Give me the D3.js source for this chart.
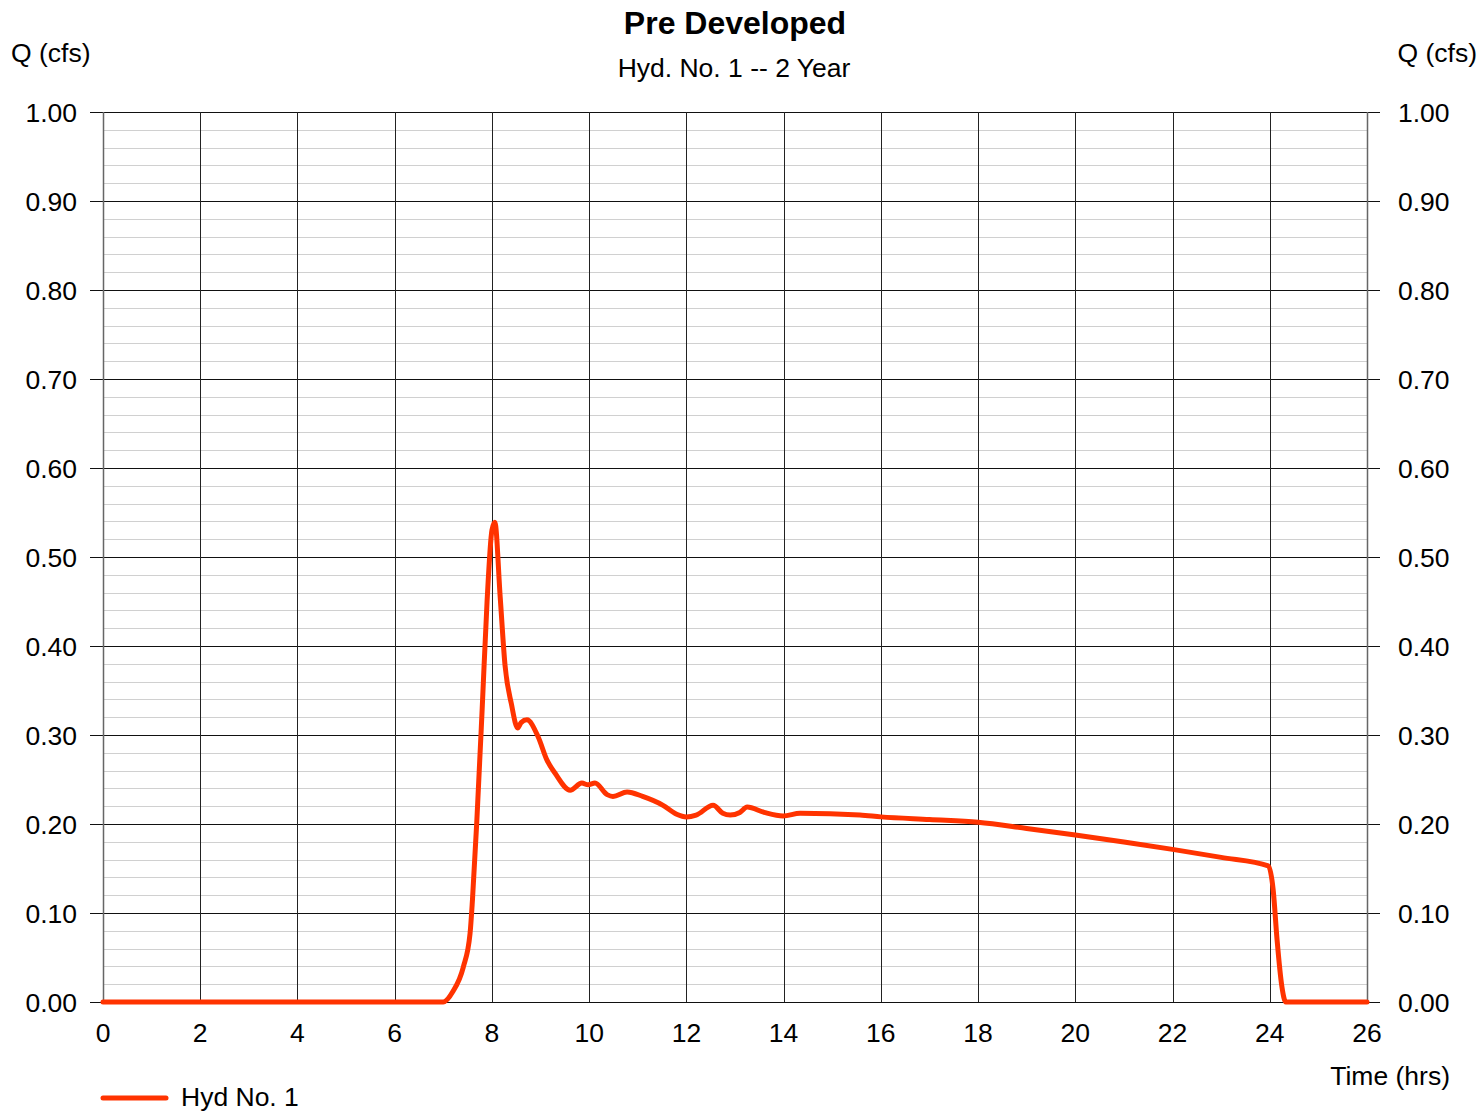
<!DOCTYPE html>
<html><head><meta charset="utf-8">
<script src="https://cdn.jsdelivr.net/npm/d3@7"></script>
<style>body{margin:0;background:#fff}svg{display:block;font-family:"Liberation Sans",Arial,sans-serif}</style>
</head><body>
<svg id="c" width="1478" height="1112"></svg>
<script>
const timeHrs = [0, 7.0, 7.2, 7.41, 7.55, 7.6, 7.69, 7.8, 7.9, 8.0, 8.06, 8.17, 8.27, 8.40, 8.53, 8.6, 8.72, 8.95, 9.13, 9.30, 9.61, 9.85, 9.98, 10.12, 10.37, 10.49, 10.78, 11.1, 11.52, 11.8, 12.0, 12.2, 12.55, 12.75, 12.9, 13.1, 13.25, 13.6, 13.99, 14.34, 15.57, 16, 17, 18, 19, 20, 21, 22, 23, 23.97, 24.07, 24.15, 24.25, 24.33, 26];
const flowCfs = [0, 0, 0.012, 0.039, 0.077, 0.115, 0.204, 0.33, 0.45, 0.53, 0.539, 0.455, 0.378, 0.335, 0.308, 0.314, 0.317, 0.298, 0.272, 0.257, 0.238, 0.246, 0.244, 0.246, 0.233, 0.231, 0.236, 0.231, 0.221, 0.211, 0.208, 0.210, 0.221, 0.212, 0.210, 0.213, 0.219, 0.213, 0.209, 0.212, 0.210, 0.208, 0.205, 0.202, 0.195, 0.1876, 0.1797, 0.1715, 0.1625, 0.153, 0.126, 0.07, 0.017, 0, 0];
const xTicks = d3.range(0, 27, 2);
const yTicks = d3.range(0, 1.0001, 0.1);
const yMinor = d3.range(0, 1.0001, 0.02);
const seriesName = "Hyd No. 1";

const svg = d3.select("#c");
const L = 103, R = 1367, T = 112, B = 1002;
const x = d3.scaleLinear().domain([0, 26]).range([L, R]);
const y = d3.scaleLinear().domain([0, 1]).range([B, T]);
const px = v => Math.round(v) + 0.5;
const FS = 26.5;

const g = svg.append("g");
g.selectAll(".mn").data(yMinor).enter().append("line")
  .attr("x1", L).attr("x2", R).attr("y1", d => px(y(d))).attr("y2", d => px(y(d)))
  .attr("stroke", "#d0d0d0").attr("stroke-width", 1);
g.selectAll(".mj").data(yTicks).enter().append("line")
  .attr("x1", L - 13).attr("x2", R + 13).attr("y1", d => px(y(d))).attr("y2", d => px(y(d)))
  .attr("stroke", "#111").attr("stroke-width", 1);
g.selectAll(".vg").data(xTicks).enter().append("line")
  .attr("x1", d => px(x(d))).attr("x2", d => px(x(d))).attr("y1", T).attr("y2", B)
  .attr("stroke", d => (d === 0 || d === 26) ? "#666" : "#222").attr("stroke-width", d => (d === 0 || d === 26) ? 1.5 : 1);

const fmt = d3.format(".2f");
g.selectAll(".yl").data(yTicks).enter().append("text")
  .attr("x", 77).attr("y", d => y(d) + 9.5).attr("text-anchor", "end")
  .attr("font-size", FS).attr("fill", "#000").text(d => fmt(d));
g.selectAll(".yr").data(yTicks).enter().append("text")
  .attr("x", 1398).attr("y", d => y(d) + 9.5).attr("text-anchor", "start")
  .attr("font-size", FS).attr("fill", "#000").text(d => fmt(d));
g.selectAll(".xl").data(xTicks).enter().append("text")
  .attr("x", d => x(d)).attr("y", 1042).attr("text-anchor", "middle")
  .attr("font-size", FS).attr("fill", "#000").text(d => d);

const line = d3.line().x((d, i) => x(timeHrs[i])).y(d => y(d)).curve(d3.curveMonotoneX);
svg.append("path").datum(flowCfs).attr("d", line)
  .attr("fill", "none").attr("stroke", "#ff3300").attr("stroke-width", 5)
  .attr("stroke-linejoin", "round").attr("stroke-linecap", "round");

svg.append("text").attr("x", 735).attr("y", 34).attr("text-anchor", "middle")
  .attr("font-size", 32).attr("font-weight", "bold").text("Pre Developed");
svg.append("text").attr("x", 734).attr("y", 77).attr("text-anchor", "middle")
  .attr("font-size", FS).text("Hyd. No. 1 -- 2 Year");
svg.append("text").attr("x", 11).attr("y", 62).attr("font-size", FS).text("Q (cfs)");
svg.append("text").attr("x", 1477).attr("y", 62).attr("text-anchor", "end").attr("font-size", FS).text("Q (cfs)");
svg.append("text").attr("x", 1450).attr("y", 1085).attr("text-anchor", "end").attr("font-size", FS).text("Time (hrs)");

svg.append("line").attr("x1", 103).attr("x2", 166).attr("y1", 1098).attr("y2", 1098)
  .attr("stroke", "#ff3300").attr("stroke-width", 5).attr("stroke-linecap", "round");
svg.append("text").attr("x", 181).attr("y", 1106).attr("font-size", FS).text(seriesName);
</script>
</body></html>
